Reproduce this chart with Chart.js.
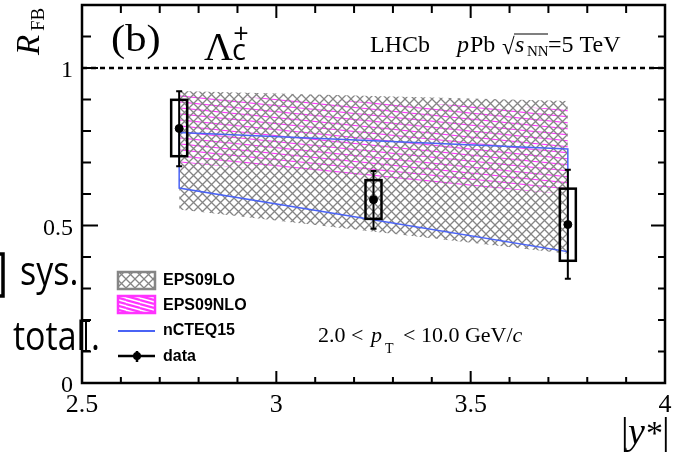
<!DOCTYPE html>
<html>
<head>
<meta charset="utf-8">
<script src="https://cdn.jsdelivr.net/npm/chart.js@4"></script>
<style>
  html, body { margin: 0; padding: 0; background: #ffffff; }
  #wrap { width: 673px; height: 462px; position: relative; }
</style>
</head>
<body>
<div id="wrap"><canvas id="rfb"></canvas></div>
<script>
// |y*| bins and measured R_FB of the Lambda_c+
const yBins    = [2.75, 3.25, 3.75];
const rFB      = [0.808, 0.582, 0.503];
const totLow   = [0.688, 0.490, 0.331];
const totHigh  = [0.926, 0.673, 0.677];
const sysLow   = [0.720, 0.521, 0.388];
const sysHigh  = [0.899, 0.644, 0.617];

// theory bands (at the edges of the y* range)
const bandX      = [2.75, 3.75];
const eps09loUp  = [0.927, 0.895];
const eps09loLo  = [0.551, 0.410];
const eps09nloUp = [0.914, 0.870];
const eps09nloLo = [0.700, 0.600];
const ncteqUp    = [0.795, 0.743];
const ncteqLo    = [0.619, 0.417];

// tick labels
const xTickLabels = ['2.5', '3', '3.5', '4'];
const yTickLabels = ['0', '0.5', '1'];

const SERIF = '"Liberation Serif", "DejaVu Serif", serif';
const SANS = '"Liberation Sans", Arial, sans-serif';
const OVER = '"Open Sans", "Noto Sans", sans-serif';

const ctx = document.getElementById('rfb').getContext('2d');

// hatch patterns
function crossHatch(size, color, lw) {
    const c = document.createElement('canvas');
    c.width = size; c.height = size;
    const g = c.getContext('2d');
    g.strokeStyle = color; g.lineWidth = lw;
    g.beginPath();
    g.moveTo(-1, -1); g.lineTo(size + 1, size + 1);
    g.moveTo(-1, size + 1); g.lineTo(size + 1, -1);
    g.stroke();
    return ctx.createPattern(c, 'repeat');
}
function slantHatch(w, h, color, lw) {
    const c = document.createElement('canvas');
    c.width = w; c.height = h;
    const g = c.getContext('2d');
    g.strokeStyle = color; g.lineWidth = lw;
    g.beginPath();
    for (let k = -1; k <= 1; k++) {
        g.moveTo(0, k * h); g.lineTo(w, h + k * h);
    }
    g.stroke();
    return ctx.createPattern(c, 'repeat');
}
const grayPat = crossHatch(9, '#858585', 1.3);
const pinkPat = slantHatch(60, 6, '#ff33ff', 1.2);
const pinkLegPat = slantHatch(14, 4, '#ff33ff', 2.2);

function pts(xs, ys) {
    return xs.map((x, i) => ({ x: x, y: ys[i] }));
}

// draws a string, returns its width
function txt(c, s, x, y, font, opt) {
    opt = opt || {};
    c.save();
    c.font = font;
    c.fillStyle = opt.color || '#000';
    c.textAlign = opt.align || 'left';
    c.textBaseline = opt.base || 'alphabetic';
    c.translate(x, y);
    if (opt.rot) c.rotate(opt.rot);
    c.scale(opt.sx || 1, opt.sy || 1);
    c.fillText(s, 0, 0);
    const w = c.measureText(s).width * (opt.sx || 1);
    c.restore();
    return w;
}

// everything ROOT-like that chart.js does not draw itself
const decor = {
    id: 'decor',
    afterDatasetsDraw(chart) {
        const c = chart.ctx;
        const xs = chart.scales.x, ys = chart.scales.y;
        const a = chart.chartArea;
        c.save();

        // dashed line at R_FB = 1
        c.strokeStyle = '#000'; c.lineWidth = 2.5;
        c.setLineDash([5, 4]);
        c.beginPath();
        c.moveTo(a.left, ys.getPixelForValue(1));
        c.lineTo(a.right, ys.getPixelForValue(1));
        c.stroke();
        c.setLineDash([]);

        // error bars and systematic boxes
        yBins.forEach((xv, i) => {
            const px = xs.getPixelForValue(xv);
            const t = ys.getPixelForValue(totHigh[i]);
            const b = ys.getPixelForValue(totLow[i]);
            c.strokeStyle = '#000'; c.lineWidth = 2;
            c.beginPath();
            c.moveTo(px, t); c.lineTo(px, b);
            c.moveTo(px - 3, t); c.lineTo(px + 3, t);
            c.moveTo(px - 3, b); c.lineTo(px + 3, b);
            c.stroke();
            const st = ys.getPixelForValue(sysHigh[i]);
            const sb = ys.getPixelForValue(sysLow[i]);
            c.lineWidth = 2.5;
            c.strokeRect(px - 8, st, 16, sb - st);
        });

        // frame
        c.lineWidth = 2.5;
        c.strokeRect(a.left, a.top, a.right - a.left, a.bottom - a.top);

        // inward ticks
        c.lineWidth = 2;
        c.beginPath();
        for (let i = 0; i <= 15; i++) {
            const v = 2.5 + i * 0.1;
            const px = xs.getPixelForValue(v);
            const major = i % 5 === 0;
            c.moveTo(px, a.bottom); c.lineTo(px, a.bottom - (major ? 12 : 6));
            c.moveTo(px, a.top); c.lineTo(px, a.top + (major ? 13 : 8));
        }
        for (let i = 0; i <= 12; i++) {
            const v = i * 0.1;
            const py = ys.getPixelForValue(v);
            const major = i % 5 === 0;
            c.moveTo(a.left, py); c.lineTo(a.left + (major ? 16 : 9), py);
            c.moveTo(a.right, py); c.lineTo(a.right - (major ? 14 : 7), py);
        }
        c.stroke();

        // tick labels
        xTickLabels.forEach(l => {
            txt(c, l, xs.getPixelForValue(parseFloat(l)), 412, '26px ' + SERIF, { align: 'center' });
        });
        yTickLabels.forEach(l => {
            txt(c, l, 73, ys.getPixelForValue(parseFloat(l)) + 9, '24px ' + SERIF, { align: 'right' });
        });

        // axis titles
        txt(c, 'R', 39, 55, 'italic 33px ' + SERIF, { rot: -Math.PI / 2 });
        txt(c, 'FB', 44, 31, '19px ' + SERIF, { rot: -Math.PI / 2 });
        txt(c, '|', 621, 444, '38px ' + SERIF);
        txt(c, 'y', 628, 444, 'italic 38px ' + SERIF);
        txt(c, '*', 646, 444, '34px ' + SERIF);
        txt(c, '|', 662, 444, '38px ' + SERIF);

        // panel labels
        txt(c, '(b)', 111, 51, '38px ' + SERIF, { sx: 1.12 });
        txt(c, '\u039B', 204, 60, '40px ' + SERIF);
        txt(c, 'c', 232, 60, '29px ' + OVER);
        txt(c, '+', 241, 35, '27px ' + OVER, { align: 'center', base: 'middle' });
        txt(c, 'LHCb', 370, 52, '24px ' + SERIF);
        txt(c, 'p', 457, 52, 'italic 24px ' + SERIF);
        txt(c, 'Pb', 470, 52, '24px ' + SERIF);
        txt(c, '\u221A', 502, 54, '23px ' + SERIF);
        c.lineWidth = 1.2;
        c.beginPath(); c.moveTo(514, 34); c.lineTo(548, 34); c.stroke();
        txt(c, 's', 515, 52, 'italic 24px ' + SERIF);
        txt(c, 'NN', 527, 56, '15px ' + SERIF);
        txt(c, '=5 TeV', 548, 52, '24px ' + SERIF);

        txt(c, '2.0 <', 318, 342, '22px ' + SERIF);
        txt(c, 'p', 371, 342, 'italic 22px ' + SERIF);
        txt(c, 'T', 385, 353, '14px ' + SERIF);
        const wg = txt(c, '< 10.0 GeV/', 403, 342, '22px ' + SERIF);
        txt(c, 'c', 403 + wg, 342, 'italic 22px ' + SERIF);

        // legend
        c.fillStyle = grayPat;
        c.fillRect(118, 272, 37, 17);
        c.strokeStyle = '#858585'; c.lineWidth = 2.5;
        c.strokeRect(118, 272, 37, 17);
        c.fillStyle = pinkLegPat;
        c.fillRect(118, 296, 37, 17);
        c.strokeStyle = '#ff33ff';
        c.strokeRect(118, 296, 37, 17);
        c.strokeStyle = '#4a63f5'; c.lineWidth = 2;
        c.beginPath(); c.moveTo(118, 331); c.lineTo(155, 331); c.stroke();
        c.strokeStyle = '#000'; c.lineWidth = 2.5;
        c.beginPath();
        c.moveTo(118, 356); c.lineTo(155, 356);
        c.moveTo(137, 351); c.lineTo(137, 362);
        c.stroke();
        c.fillStyle = '#000';
        c.beginPath(); c.arc(137, 356, 4, 0, Math.PI * 2); c.fill();
        txt(c, 'EPS09LO', 163, 285, 'bold 16px ' + SANS);
        txt(c, 'EPS09NLO', 163, 310, 'bold 16px ' + SANS);
        txt(c, 'nCTEQ15', 163, 335, 'bold 16px ' + SANS);
        txt(c, 'data', 163, 361, 'bold 16px ' + SANS);

        // sys. / total. annotations pasted on the left
        c.strokeStyle = '#000'; c.lineWidth = 3.5;
        c.strokeRect(-10, 254, 13, 42);
        txt(c, 'sys.', 20, 285, '34px ' + OVER, { sy: 1.2 });
        txt(c, 'total', 13, 350, '34px ' + OVER, { sy: 1.2 });
        txt(c, '.', 91, 350, '34px ' + OVER, { sy: 1.2 });
        c.lineWidth = 2;
        c.beginPath();
        c.moveTo(86, 321); c.lineTo(86, 351);
        c.moveTo(82, 321); c.lineTo(90, 321);
        c.moveTo(82, 351); c.lineTo(90, 351);
        c.stroke();

        c.restore();
    }
};

new Chart(ctx, {
    type: 'line',
    data: {
        datasets: [
            {   // data points
                label: 'data',
                data: pts(yBins, rFB),
                showLine: false,
                pointRadius: 4,
                pointBackgroundColor: '#000',
                pointBorderColor: '#000',
                borderColor: '#000'
            },
            {   // nCTEQ15 outline
                label: 'nCTEQ15',
                data: pts(bandX, ncteqUp).concat(pts(bandX.slice().reverse(), ncteqLo.slice().reverse()), pts([bandX[0]], [ncteqUp[0]])),
                borderColor: '#4a63f5',
                borderWidth: 1.5,
                pointRadius: 0,
                fill: false,
                tension: 0
            },
            {
                label: 'EPS09LO',
                data: pts(bandX, eps09loUp),
                borderWidth: 0,
                pointRadius: 0,
                backgroundColor: grayPat,
                fill: '+1'
            },
            {
                label: 'EPS09LO low',
                data: pts(bandX, eps09loLo),
                borderWidth: 0,
                pointRadius: 0,
                fill: false
            },
            {
                label: 'EPS09NLO',
                data: pts(bandX, eps09nloUp),
                borderWidth: 0,
                pointRadius: 0,
                backgroundColor: pinkPat,
                fill: '+1'
            },
            {
                label: 'EPS09NLO low',
                data: pts(bandX, eps09nloLo),
                borderWidth: 0,
                pointRadius: 0,
                fill: false
            }
        ]
    },
    options: {
        responsive: true,
        maintainAspectRatio: false,
        devicePixelRatio: 1,
        animation: false,
        layout: { padding: { left: 82, top: 5, right: 8, bottom: 79 } },
        scales: {
            x: { type: 'linear', min: 2.5, max: 4, display: false },
            y: { type: 'linear', min: 0, max: 1.2, display: false }
        },
        plugins: {
            legend: { display: false },
            tooltip: { enabled: false }
        }
    },
    plugins: [decor]
});
</script>
</body>
</html>
